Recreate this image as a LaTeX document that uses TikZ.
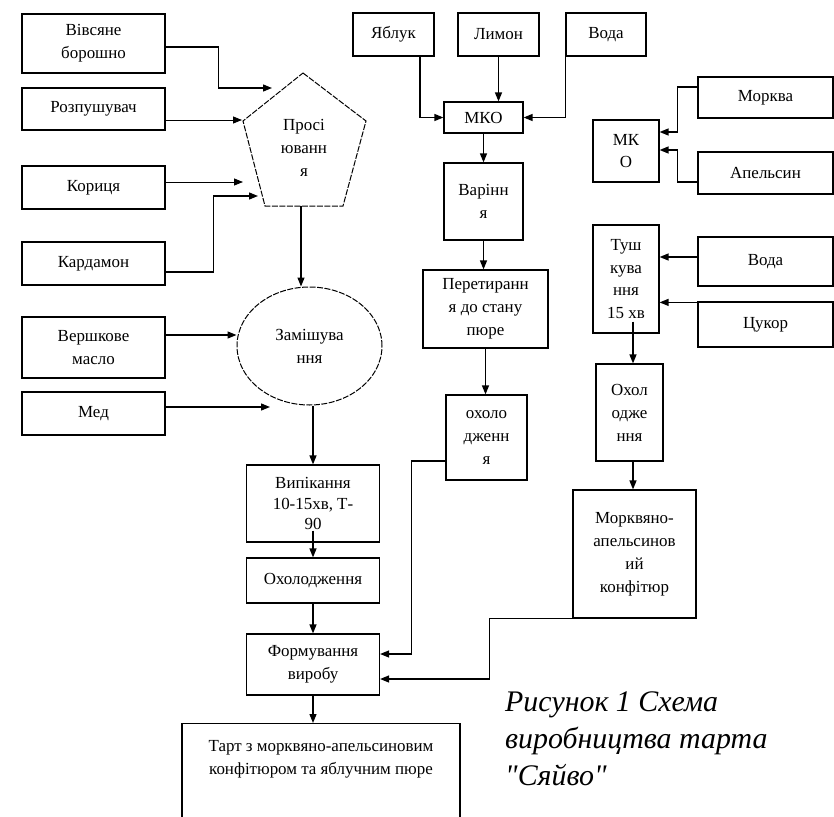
\documentclass[tikz,border=0pt]{standalone}
\usepackage{fontspec}
\setmainfont{Liberation Serif}
\newfontfamily\capfont{Liberation Serif}
\usetikzlibrary{arrows.meta,shapes.geometric,calc}
\begin{document}
\begin{tikzpicture}[x=1bp,y=-1bp,
  box/.style={draw,line width=1.2bp,rectangle,inner sep=2bp,align=center,font=\fontsize{17}{23}\selectfont},
  arr/.style={line width=1.3bp,-{Triangle[length=9bp,width=7bp]}},
  arrthin/.style={line width=0.8bp,-{Triangle[length=9bp,width=7bp]}},
  dsh/.style={draw,line width=1bp,dash pattern=on 6bp off 1.5bp},
  lbl/.style={align=center,font=\fontsize{17}{23}\selectfont,inner sep=0pt}]
\useasboundingbox (0,0) rectangle (834,817);
\fill[white] (0,0) rectangle (834,817);

% ---------- left column inputs ----------
\node[box,minimum width=143bp,minimum height=59bp] (vivs) at (93.5,43.5) {Вівсяне\\борошно};
\node[box,minimum width=143bp,minimum height=42bp] (rozp) at (93.5,109) {Розпушувач};
\node[box,minimum width=143bp,minimum height=43bp] (koryc) at (93.5,187.5) {Кориця};
\node[box,minimum width=143bp,minimum height=43bp] (kard) at (93.5,263.5) {Кардамон};
\node[box,minimum width=143bp,minimum height=61bp] (versh) at (93.5,347.5) {Вершкове\\масло};
\node[box,minimum width=143bp,minimum height=43bp] (med) at (93.5,413.5) {Мед};

% ---------- pentagon ----------
\coordinate (pt) at (303,73);
\coordinate (pr) at (366,121);
\coordinate (pbr) at (343,206);
\coordinate (pbl) at (265,206);
\coordinate (pl) at (243,121);
\draw[dsh] (pt) -- (pr) -- (pbr) -- (pbl) -- (pl) -- cycle;
\node[lbl] (prosiy) at (304,148) {Просі\\юванн\\я};
\coordinate (pin1) at (272,88);
\coordinate (pin2) at (242,120);
\coordinate (pin3) at (243,182);
\coordinate (pin4) at (258,196);
\coordinate (pout) at (301,206);

% ---------- ellipse ----------
\node[dsh,ellipse,minimum width=145bp,minimum height=118bp,inner sep=0pt,
      align=center,font=\fontsize{17}{23}\selectfont] (zam) at (309.5,346) {Замішува\\ння};
\coordinate (min) at (270,407);

% ---------- left column process ----------
\node[box,minimum width=133bp,minimum height=77bp,font=\fontsize{17}{21}\selectfont] (vyp) at (313,503.5) {Випікання\\10-15хв, Т-\\90};
\node[box,minimum width=133bp,minimum height=45bp] (ohol1) at (313,580.5) {Охолодження};
\node[box,minimum width=133bp,minimum height=61bp] (form) at (313,664.5) {Формування\\виробу};
\node[draw,line width=1.2bp,minimum width=278bp,minimum height=130bp,anchor=north] (tart) at (321,723) {};
\node[lbl] (tarttxt) at (321,759) {Тарт з морквяно-апельсиновим\\конфітюром та яблучним пюре};

% ---------- middle column ----------
\node[box,minimum width=81bp,minimum height=43bp] (yabluk) at (393.5,34.5) {Яблук};
\node[box,minimum width=81bp,minimum height=43bp] (lymon) at (498.5,34.5) {Лимон};
\node[box,minimum width=80bp,minimum height=43bp] (voda1) at (606,34.5) {Вода};
\node[box,minimum width=79bp,minimum height=31bp] (mko) at (483.5,117.5) {МКО};
\node[box,minimum width=79bp,minimum height=77bp] (var) at (483.5,201.5) {Варінн\\я};
\node[box,minimum width=125bp,minimum height=78bp] (per) at (485.5,309) {Перетиранн\\я до стану\\пюре};
\node[box,minimum width=81bp,minimum height=85bp] (ohol2) at (486.5,437.5) {охоло\\дженн\\я};

% ---------- right column ----------
\node[box,minimum width=135bp,minimum height=41bp] (morkva) at (765.5,97.5) {Морква};
\node[box,minimum width=135bp,minimum height=42bp] (apels) at (765.5,173) {Апельсин};
\node[box,minimum width=66bp,minimum height=62bp] (mke) at (626,151) {МК\\О};
\node[box,minimum width=66bp,minimum height=108bp] (tush) at (626,279) {Туш\\кува\\ння\\15 хв};
\node[box,minimum width=135bp,minimum height=49bp] (voda2) at (765.5,261.5) {Вода};
\node[box,minimum width=135bp,minimum height=45bp] (tsukor) at (765.5,324.5) {Цукор};
\node[box,minimum width=67bp,minimum height=97bp] (ohol3) at (629.5,412.5) {Охол\\одже\\ння};
\node[box,minimum width=123bp,minimum height=128bp] (konf) at (634.5,554) {Морквяно-\\апельсинов\\ий\\конфітюр};

% ---------- caption ----------
\node[anchor=north west,align=left,inner sep=0pt,font=\capfont\fontsize{30}{37}\selectfont\itshape] (cap) at (505,692) {Рисунок 1 Схема\\виробництва тарта\\"Сяйво"};

% ---------- connectors: left ----------
\draw[arr] ([yshift=-3.5bp]vivs.east) -- ++(53,0) |- (pin1);
\draw[arrthin] (rozp.east |- pin2) -- (pin2);
\draw[arrthin] (koryc.east |- pin3) -- (pin3);
\draw[arr] ([yshift=-8.5bp]kard.east) -- ++(48,0) |- (pin4);
\draw[arr] (pout) -- (pout |- zam.north);
\coordinate (vo) at ([yshift=12.5bp]versh.east);
\draw[arr] (vo) -- (vo -| zam.west);
\draw[arr] (med.east |- min) -- (min);
\draw[arr] (zam.south -| vyp.north) -- (vyp.north);
\draw[arr] ([yshift=12bp]vyp.south) -- (ohol1.north);
\draw[arr] (ohol1.south) -- (form.north);
\draw[arr] (form.south) -- (form.south |- tart.north);

% ---------- connectors: middle ----------
\draw[arr] ([xshift=26.5bp]yabluk.south) |- (mko.west);
\draw[arr] (lymon.south) -- (lymon.south |- mko.north);
\draw[arr] (voda1.south west) |- (mko.east);
\draw[arr] (mko.south) -- (var.north);
\draw[arr] (var.south) -- (var.south |- per.north);
\draw[arr] (per.south) -- (per.south |- ohol2.north);
\draw[arr] ([yshift=-23.5bp]ohol2.west) -- ++(-34,0) |- ([yshift=10.5bp]form.east);

% ---------- connectors: right ----------
\draw[arr] ([yshift=10.5bp]morkva.west) -- ++(-20,0) |- ([yshift=19bp]mke.east);
\draw[arr] ([yshift=-9bp]apels.west) -- ++(-20,0) |- ([yshift=1bp]mke.east);
\coordinate (v2o) at ([yshift=4.5bp]voda2.west);
\draw[arr] (v2o) -- (v2o -| tush.east);
\coordinate (tso) at ([yshift=-1bp]tsukor.north west);
\draw[arr] (tso) -- (tso -| tush.east);
\coordinate (tsh) at ([xshift=7bp,yshift=12bp]tush.south);
\draw[arr] (tsh) -- (tsh |- ohol3.north);
\coordinate (o3o) at ([xshift=3.5bp]ohol3.south);
\draw[arr] (o3o) -- (o3o |- konf.north);
\draw[arr] (konf.south west) -- ++(-83,0) |- ([yshift=-14.5bp]form.east);
\end{tikzpicture}
\end{document}
